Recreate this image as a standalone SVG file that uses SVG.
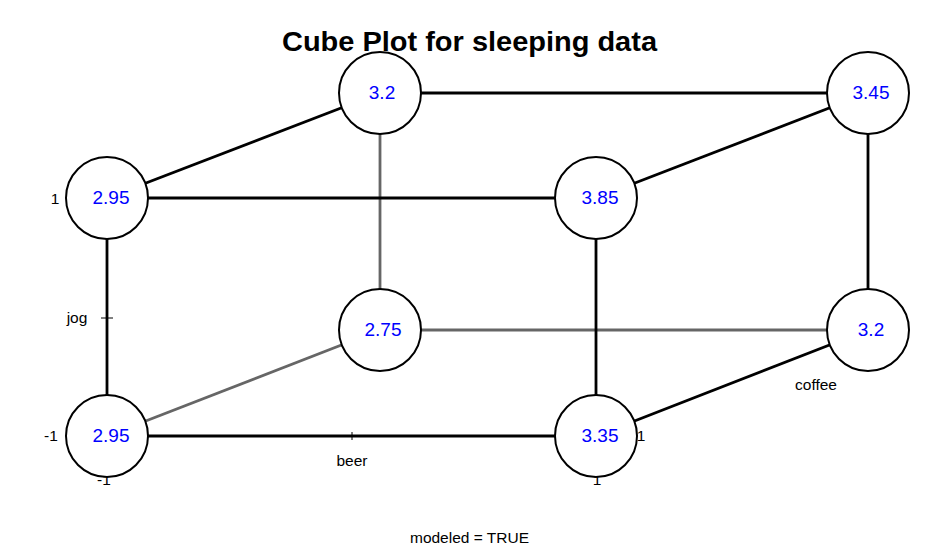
<svg xmlns="http://www.w3.org/2000/svg" width="941" height="548" viewBox="0 0 941 548">
<style>
.bg{fill:#ffffff}
.edge{stroke:#000;stroke-width:2.8;fill:none}
.back{stroke:#666;stroke-width:2.8;fill:none}
.tick{stroke:#000;stroke-width:1;fill:none}
.node circle{fill:#fff;stroke:#000;stroke-width:2}
.node text{font-family:"Liberation Sans",Arial,sans-serif;font-size:19px;fill:#0000ff;text-anchor:middle}
.lab{font-family:"Liberation Sans",Arial,sans-serif;font-size:15.5px;fill:#000;text-anchor:middle}
.title{font-family:"Liberation Sans",Arial,sans-serif;font-size:27px;font-weight:bold;fill:#000;text-anchor:middle}
</style>
<rect class="bg" x="0" y="0" width="941" height="548"/>
<text class="title" x="469.5" y="51" textLength="375" lengthAdjust="spacingAndGlyphs">Cube Plot for sleeping data</text>
<g id="axis-labels">
<text class="lab" x="55" y="204">1</text>
<text class="lab" x="51" y="441">-1</text>
<text class="lab" x="104" y="485">-1</text>
<text class="lab" x="597" y="485">1</text>
<text class="lab" x="641" y="441">1</text>
<text class="lab" x="77" y="323">jog</text>
<text class="lab" x="352" y="466">beer</text>
<text class="lab" x="816" y="390">coffee</text>
<text class="lab" x="469.5" y="543">modeled = TRUE</text>
</g>
<g id="connectors">
<line class="back" x1="380" y1="93" x2="380" y2="330"/>
<line class="back" x1="380" y1="330" x2="868" y2="330"/>
<line class="back" x1="107" y1="436" x2="380" y2="330"/>
<line class="edge" x1="107" y1="198" x2="380" y2="93"/>
<line class="edge" x1="107" y1="198" x2="596" y2="198"/>
<line class="edge" x1="380" y1="93" x2="868" y2="93"/>
<line class="edge" x1="596" y1="198" x2="868" y2="93"/>
<line class="edge" x1="868" y1="93" x2="868" y2="330"/>
<line class="edge" x1="596" y1="198" x2="596" y2="436"/>
<line class="edge" x1="107" y1="198" x2="107" y2="436"/>
<line class="edge" x1="107" y1="436" x2="596" y2="436"/>
<line class="edge" x1="596" y1="436" x2="868" y2="330"/>
<line class="tick" x1="101" y1="318" x2="113" y2="318"/>
<line class="tick" x1="352" y1="432" x2="352" y2="440"/>
</g>
<g id="n-3.2-top" class="node"><circle cx="380" cy="93" r="41"/><text x="382" y="99">3.2</text></g>
<g id="n-3.45" class="node"><circle cx="868" cy="93" r="41"/><text x="871" y="99">3.45</text></g>
<g id="n-2.95-top" class="node"><circle cx="107" cy="198" r="41"/><text x="111" y="204">2.95</text></g>
<g id="n-3.85" class="node"><circle cx="596" cy="198" r="41"/><text x="600" y="204">3.85</text></g>
<g id="n-2.75" class="node"><circle cx="380" cy="330" r="41"/><text x="383" y="336">2.75</text></g>
<g id="n-3.2-right" class="node"><circle cx="868" cy="330" r="41"/><text x="871" y="336">3.2</text></g>
<g id="n-2.95-bottom" class="node"><circle cx="107" cy="436" r="41"/><text x="111" y="442">2.95</text></g>
<g id="n-3.35" class="node"><circle cx="596" cy="436" r="41"/><text x="600" y="442">3.35</text></g>
</svg>
